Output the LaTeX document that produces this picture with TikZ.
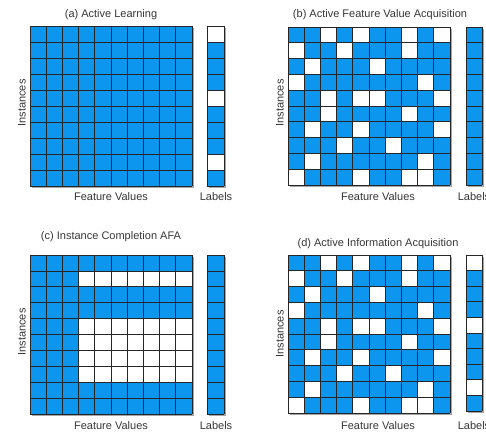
\documentclass[tikz,border=0pt]{standalone}
\usepackage{fontspec}
\setmainfont{Liberation Sans}
\definecolor{cellblue}{RGB}{12,150,238}
\definecolor{txt}{RGB}{55,55,55}
\tikzset{
  lbl/.style={text=txt, font=\fontsize{11}{13}\selectfont, inner sep=0pt},
  gridline/.style={draw=black!85, line width=0.8pt},
  shadow/.style={fill=black!35},
}
% #1 x0, #2 y0, #3 x1, #4 y1, #5 columns, #6 rows, #7 white cells list c/r
\newcommand{\mygrid}[7]{%
  \fill[shadow] (#1+1.5,#2+1.5) rectangle (#3+1.5,#4+1.5);
  \fill[cellblue] (#1,#2) rectangle (#3,#4);
  \pgfmathsetmacro\cw{(#3-#1)/#5}
  \pgfmathsetmacro\ch{(#4-#2)/#6}
  \foreach \c/\r in {#7} {
    \fill[white] (#1+\c*\cw-\cw,#2+\r*\ch-\ch) rectangle (#1+\c*\cw,#2+\r*\ch);
  }
  \foreach \i in {0,...,#5} { \draw[gridline] (#1+\i*\cw,#2) -- (#1+\i*\cw,#4); }
  \foreach \j in {0,...,#6} { \draw[gridline] (#1,#2+\j*\ch) -- (#3,#2+\j*\ch); }
}
\begin{document}
\begin{tikzpicture}[x=1pt,y=-1pt]
\useasboundingbox (0,0) rectangle (486,432);
\clip (0,0) rectangle (486,432);
\fill[white] (0,0) rectangle (486,432);
% panel a
\mygrid{30}{26}{192}{186}{10}{10}{0/0}
\mygrid{207}{26}{224}{186}{1}{10}{1/1,1/5,1/9}
% panel b
\mygrid{288}{27}{450}{185}{10}{10}{3/1,5/1,8/1,10/1,1/2,4/2,8/2,2/3,6/3,1/4,9/4,3/5,5/5,6/5,10/5,3/6,8/6,2/7,5/7,10/7,4/8,7/8,2/9,9/9,1/10,5/10,8/10,9/10}
\mygrid{466}{27}{482}{185}{1}{10}{0/0}
% panel c
\mygrid{30}{255}{192}{414}{10}{10}{4/2,5/2,6/2,7/2,8/2,9/2,10/2,4/5,5/5,6/5,7/5,8/5,9/5,10/5,4/6,5/6,6/6,7/6,8/6,9/6,10/6,4/7,5/7,6/7,7/7,8/7,9/7,10/7,4/8,5/8,6/8,7/8,8/8,9/8,10/8}
\mygrid{207}{255}{224}{414}{1}{10}{0/0}
% panel d
\mygrid{288}{255}{450}{413}{10}{10}{3/1,5/1,8/1,10/1,1/2,4/2,8/2,2/3,6/3,1/4,9/4,3/5,5/5,6/5,10/5,3/6,8/6,2/7,5/7,10/7,4/8,7/8,2/9,9/9,1/10,5/10,8/10,9/10}
\mygrid{466}{255}{482}{411}{1}{10}{1/1,1/5,1/9}
% texts
\node[lbl] (ta) at (111,15) {(a) Active Learning};
\node[lbl] (tb) at (380,15) {(b) Active Feature Value Acquisition};
\node[lbl] (tc) at (111,237) {(c) Instance Completion AFA};
\node[lbl] (td) at (378,244) {(d) Active Information Acquisition};
\node[lbl] (fa) at (111,197) {Feature Values};
\node[lbl] (fb) at (378,197) {Feature Values};
\node[lbl] (fc) at (111,426) {Feature Values};
\node[lbl] (fd) at (378,426) {Feature Values};
\node[lbl] (la) at (216,197) {Labels};
\node[lbl] (lb) at (474,197) {Labels};
\node[lbl] (lc) at (216,426) {Labels};
\node[lbl] (ld) at (474,426) {Labels};
\node[lbl,rotate=90] (ia) at (22,103) {Instances};
\node[lbl,rotate=90] (ib) at (280,103) {Instances};
\node[lbl,rotate=90] (ic) at (22,332) {Instances};
\node[lbl,rotate=90] (id) at (280,334) {Instances};
\end{tikzpicture}
\end{document}
